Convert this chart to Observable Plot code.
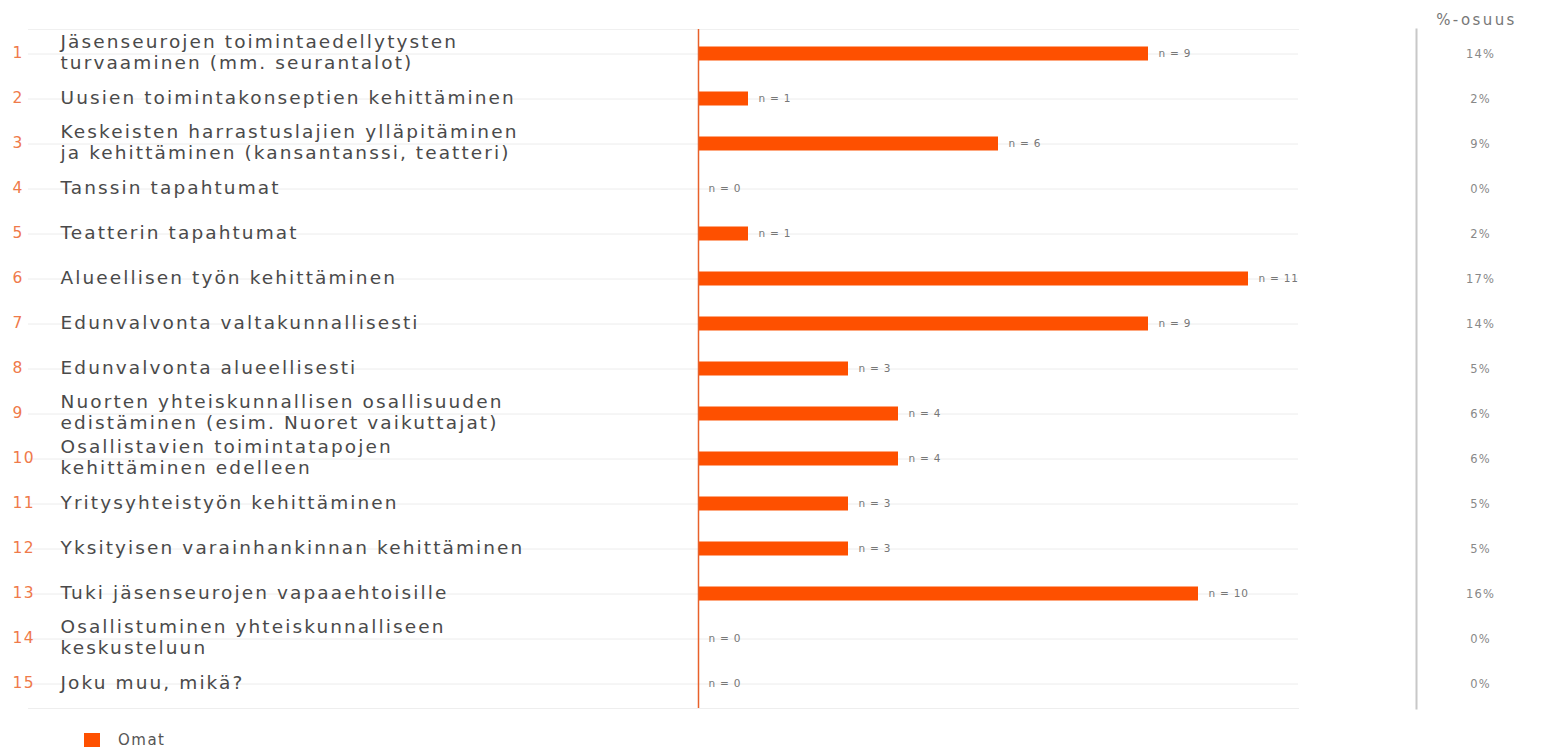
<!DOCTYPE html>
<html><head><meta charset="utf-8">
<script src="https://cdn.jsdelivr.net/npm/d3@7"></script>
<script src="https://cdn.jsdelivr.net/npm/@observablehq/plot@0.6"></script>
<style>
body{margin:0;background:#fff;font-family:"DejaVu Sans",sans-serif;}
#legend{display:flex;align-items:center;margin:11px 0 0 84px;font-size:15px;color:#555;letter-spacing:1.5px;}
#legend span.sw{display:inline-block;width:16px;height:14px;background:#fe5000;margin-right:18px;}
</style></head><body>
<div id="chart"></div>
<div id="legend"><span class="sw"></span><span>Omat</span></div>
<script>
const ids = [1,2,3,4,5,6,7,8,9,10,11,12,13,14,15];
const labels = [
 "Jäsenseurojen toimintaedellytysten\nturvaaminen (mm. seurantalot)",
 "Uusien toimintakonseptien kehittäminen",
 "Keskeisten harrastuslajien ylläpitäminen\nja kehittäminen (kansantanssi, teatteri)",
 "Tanssin tapahtumat",
 "Teatterin tapahtumat",
 "Alueellisen työn kehittäminen",
 "Edunvalvonta valtakunnallisesti",
 "Edunvalvonta alueellisesti",
 "Nuorten yhteiskunnallisen osallisuuden\nedistäminen (esim. Nuoret vaikuttajat)",
 "Osallistavien toimintatapojen\nkehittäminen edelleen",
 "Yritysyhteistyön kehittäminen",
 "Yksityisen varainhankinnan kehittäminen",
 "Tuki jäsenseurojen vapaaehtoisille",
 "Osallistuminen yhteiskunnalliseen\nkeskusteluun",
 "Joku muu, mikä?"
];
const counts = [9,1,6,0,1,11,9,3,4,4,3,3,10,0,0];
const shares = ["14%","2%","9%","0%","2%","17%","14%","5%","6%","6%","5%","5%","16%","0%","0%"];
const seriesName = "Omat";

const data = ids.map((id,i)=>({id, label:labels[i], n:counts[i], pct:shares[i]}));
const orange = "#fe5000";

const chart = Plot.plot({
  width: 1541, height: 720,
  marginLeft: 698, marginRight: 243, marginTop: 29, marginBottom: 12,
  style: {fontFamily: "DejaVu Sans, sans-serif", background: "#fff"},
  x: {domain: [0, 12], axis: null},
  y: {domain: ids, axis: null, padding: 0},
  marks: [
    Plot.gridY(ids, {stroke: "#ececec", strokeOpacity: 1, insetLeft: -670}),
    Plot.frame({anchor: "top", stroke: "#f0f0f0", insetLeft: -670}),
    Plot.frame({anchor: "bottom", stroke: "#eeeeee", insetLeft: -670}),
    Plot.barX(data, {y: "id", x: "n", fill: orange, insetTop: 15.5, insetBottom: 15.5}),
    Plot.ruleX([0], {stroke: "#e8602a", strokeWidth: 1.5}),
    Plot.text(data, {y: "id", x: "n", text: d => "n = " + d.n, dx: 10, textAnchor: "start", fill: "#777", fontSize: 10.5}),
    Plot.text(data, {y: "id", frameAnchor: "left", text: d => String(d.id), dx: -686, dy: -1, textAnchor: "start", fill: "#ef7a4a", fontSize: 15.5}),
    Plot.text(data, {y: "id", frameAnchor: "left", text: "label", dx: -638, dy: -2, textAnchor: "start", fill: "#4a4a4a", fontSize: 18.5, lineHeight: 1.15}),
    Plot.frame({anchor: "right", stroke: "#c8c8c8", strokeWidth: 2, dx: 118}),
    Plot.text(data, {y: "id", frameAnchor: "right", text: "pct", dx: 182, textAnchor: "middle", fill: "#888", fontSize: 11.5}),
    Plot.text(["%-osuus"], {frameAnchor: "top-right", text: d => d, dx: 178, dy: -15, textAnchor: "middle", fill: "#777", fontSize: 15})
  ]
});
// letter spacing per text layer, in mark order
const spacing = ["0.8px", "1.5px", "2.1px", "1.2px", "2.4px"];
chart.querySelectorAll('g[aria-label="text"]').forEach((g, i) => {
  if (spacing[i]) g.style.letterSpacing = spacing[i];
});
document.getElementById("chart").append(chart);
document.querySelector("#legend span:last-child").textContent = seriesName;
</script>
</body></html>
